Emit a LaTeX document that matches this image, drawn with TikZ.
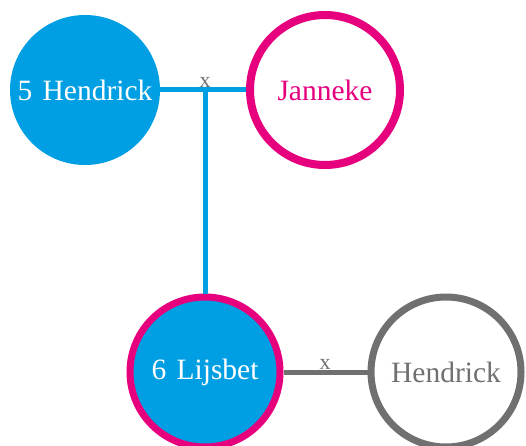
\documentclass[tikz,border=0pt]{standalone}
\usepackage{fontspec}
\setmainfont{Liberation Serif}
\definecolor{blau}{HTML}{009FE3}
\definecolor{roze}{HTML}{E6007E}
\definecolor{grijs}{HTML}{707070}
\begin{document}
\begin{tikzpicture}[x=1pt,y=1pt,font=\fontsize{29.5}{32}\selectfont, line join=round,
		person/.style={circle,minimum size=150pt,inner sep=0pt},
		huwelijk/.style={font=\fontsize{22}{24}\selectfont,text=grijs,inner sep=1pt}]
		\useasboundingbox (0,0) rectangle (526,445);
		\node[person,fill=blau,text=white] (h5) at (85,355) {5\hspace{.35em}Hendrick};
		\node[person,draw=roze,line width=8pt,text=roze] (jan) at (325,355) {Janneke};
		\node[person,fill=blau,draw=roze,line width=7pt,text=white] (lij) at (205,73) {6\hspace{.35em}Lijsbet};
		\node[person,draw=grijs,line width=7pt,text=grijs] (hen) at (446,73) {Hendrick};
		\coordinate (mid) at (205,355);
		\draw[blau,line width=5pt] (h5.east)--(jan.west);
		\draw[blau,line width=5pt] (mid)--(lij.north);
		\draw[grijs,line width=5pt] (lij.east)--(hen.west);
		\node[huwelijk,anchor=south] (x1) at (205,356) {x};
		\node[huwelijk,anchor=south] (x2) at (325,74) {x};
	\end{tikzpicture}
\end{document}
